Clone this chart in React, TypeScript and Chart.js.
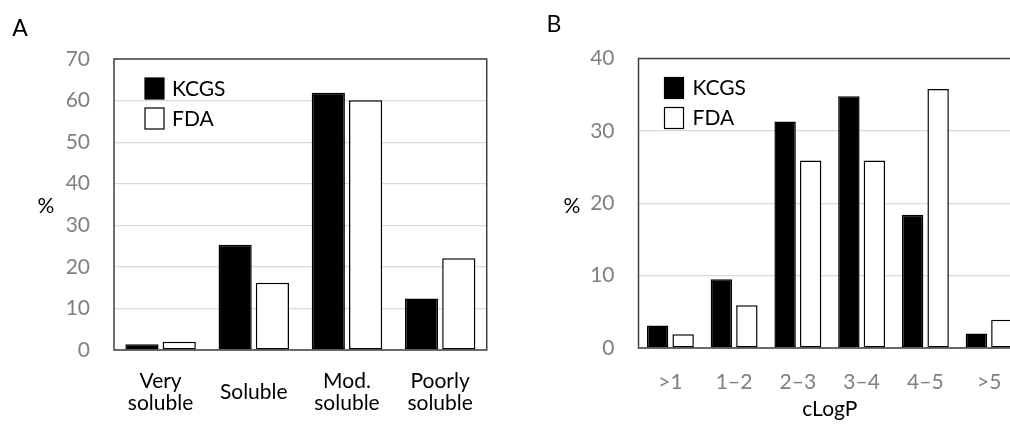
import React, { useEffect, useRef } from "react";
import { Chart, registerables } from "chart.js";

Chart.register(...registerables);

// ---- data ----
const seriesNames = ["KCGS", "FDA"];
const solubilityCategories: (string | string[])[] = [["Very", "soluble"], "Soluble", ["Mod.", "soluble"], ["Poorly", "soluble"]];
const solubilityKCGS = [1.4, 25.3, 61.9, 12.4];
const solubilityFDA = [2.0, 16.2, 60.1, 22.1];
const solubilityYMax = 70;
const clogpCategories = [">1", "1–2", "2–3", "3–4", "4–5", ">5"];
const clogpKCGS = [3.1, 9.5, 31.3, 34.8, 18.4, 2.0];
const clogpFDA = [1.9, 5.9, 25.9, 25.9, 35.8, 3.9];
const clogpYMax = 40;
const yStep = 10;
const panelLetters = ["A", "B"];
const yAxisLabel = "%";
const clogpAxisTitle = "cLogP";

const FONT = "Lato, 'Noto Sans', sans-serif";
const GRAY = "#808080";
const BORDER = "#404040";

type PanelOpts = {
  categories: (string | string[])[];
  kcgs: number[];
  fda: number[];
  yMax: number;
  yWidth: number;
  xHeight: number;
  padTop: number;
  padRight: number;
  barPct: number;
  xTickColor: string;
  xTickPad: number;
  crossAlign: "near" | "center" | "far";
  xTitle?: string;
  legendBoxX: number;
  legendTextX: number;
  letter: { text: string; x: number; y: number };
  pct: { x: number; y: number };
};

function makeConfig(o: PanelOpts): any {
  const boxPlugin = {
    id: "boxAndLegend",
    afterDatasetsDraw(chart: any) {
      const { ctx, chartArea } = chart;
      ctx.save();
      // plot frame
      ctx.strokeStyle = BORDER;
      ctx.lineWidth = 1.5;
      ctx.strokeRect(chartArea.left, chartArea.top, chartArea.right - chartArea.left, chartArea.bottom - chartArea.top);
      // legend inside plot area
      chart.data.datasets.forEach((ds: any, i: number) => {
        const bx = chartArea.left + o.legendBoxX;
        const by = chartArea.top + 19 + i * 30;
        ctx.fillStyle = ds.backgroundColor;
        ctx.fillRect(bx, by, 19, 21);
        ctx.strokeStyle = "#000";
        ctx.lineWidth = 1.2;
        ctx.strokeRect(bx, by, 19, 21);
        ctx.fillStyle = "#000";
        ctx.font = `21px ${FONT}`;
        ctx.textAlign = "left";
        ctx.textBaseline = "middle";
        ctx.fillText(ds.label, chartArea.left + o.legendTextX, by + 11);
      });
      // panel letter and y label
      ctx.fillStyle = "#000";
      ctx.font = `23px ${FONT}`;
      ctx.textAlign = "center";
      ctx.textBaseline = "middle";
      ctx.fillText(o.letter.text, o.letter.x, o.letter.y);
      ctx.font = `21px ${FONT}`;
      ctx.fillText(yAxisLabel, o.pct.x, o.pct.y);
      ctx.restore();
    },
  };

  return {
    type: "bar",
    data: {
      labels: o.categories,
      datasets: [
        {
          label: seriesNames[0],
          data: o.kcgs,
          backgroundColor: "#000000",
          borderColor: "#000000",
          borderWidth: 1.5,
          borderSkipped: false,
        },
        {
          label: seriesNames[1],
          data: o.fda,
          backgroundColor: "#ffffff",
          borderColor: "#000000",
          borderWidth: 1.5,
          borderSkipped: false,
        },
      ],
    },
    options: {
      responsive: false,
      animation: false,
      devicePixelRatio: 1,
      layout: { padding: { top: o.padTop, right: o.padRight, left: 0, bottom: 0 } },
      datasets: { bar: { categoryPercentage: 0.8, barPercentage: o.barPct } },
      plugins: { legend: { display: false }, tooltip: { enabled: false } },
      scales: {
        x: {
          grid: { display: false, drawTicks: false },
          border: { display: false },
          ticks: {
            color: o.xTickColor,
            font: { family: FONT, size: 21, lineHeight: 1.05 },
            padding: o.xTickPad,
            maxRotation: 0,
            autoSkip: false,
            crossAlign: o.crossAlign,
          },
          title: o.xTitle
            ? { display: true, text: o.xTitle, color: "#000", font: { family: FONT, size: 21, lineHeight: 1.2 }, padding: { top: 0, bottom: 3 } }
            : { display: false },
          afterFit: (s: any) => {
            s.height = o.xHeight;
          },
        },
        y: {
          min: 0,
          max: o.yMax,
          grid: { color: "#d9d9d9", lineWidth: 1.2, drawTicks: false },
          border: { display: false },
          ticks: {
            stepSize: yStep,
            color: GRAY,
            font: { family: FONT, size: 21 },
            padding: 24,
          },
          afterFit: (s: any) => {
            s.width = o.yWidth;
          },
        },
      },
    },
    plugins: [boxPlugin],
  };
}

function Panel({ left, width, opts }: { left: number; width: number; opts: PanelOpts }) {
  const ref = useRef<HTMLCanvasElement | null>(null);
  useEffect(() => {
    if (!ref.current) return;
    const chart = new Chart(ref.current, makeConfig(opts));
    return () => chart.destroy();
  }, []);
  return (
    <canvas
      ref={ref}
      width={width}
      height={425}
      style={{ position: "absolute", left, top: 0, width, height: 425 }}
    />
  );
}

export default function App() {
  const leftOpts: PanelOpts = {
    categories: solubilityCategories,
    kcgs: solubilityKCGS,
    fda: solubilityFDA,
    yMax: solubilityYMax,
    yWidth: 114,
    xHeight: 75,
    padTop: 59,
    padRight: 9,
    barPct: 0.89,
    xTickColor: "#000",
    xTickPad: 31,
    crossAlign: "center",
    legendBoxX: 31,
    legendTextX: 58,
    letter: { text: panelLetters[0], x: 20, y: 29 },
    pct: { x: 46, y: 206 },
  };
  const rightOpts: PanelOpts = {
    categories: clogpCategories,
    kcgs: clogpKCGS,
    fda: clogpFDA,
    yMax: clogpYMax,
    yWidth: 138.5,
    xHeight: 77,
    padTop: 58.5,
    padRight: 9,
    barPct: 0.84,
    xTickColor: GRAY,
    xTickPad: 23,
    crossAlign: "near",
    xTitle: clogpAxisTitle,
    legendBoxX: 26,
    legendTextX: 54,
    letter: { text: panelLetters[1], x: 54, y: 25 },
    pct: { x: 72, y: 206 },
  };
  return (
    <div
      style={{
        position: "fixed",
        left: 0,
        top: 0,
        width: 1010,
        height: 425,
        overflow: "hidden",
        background: "#fff",
      }}
    >
      <Panel left={0} width={505} opts={leftOpts} />
      <Panel left={500} width={530} opts={rightOpts} />
    </div>
  );
}
